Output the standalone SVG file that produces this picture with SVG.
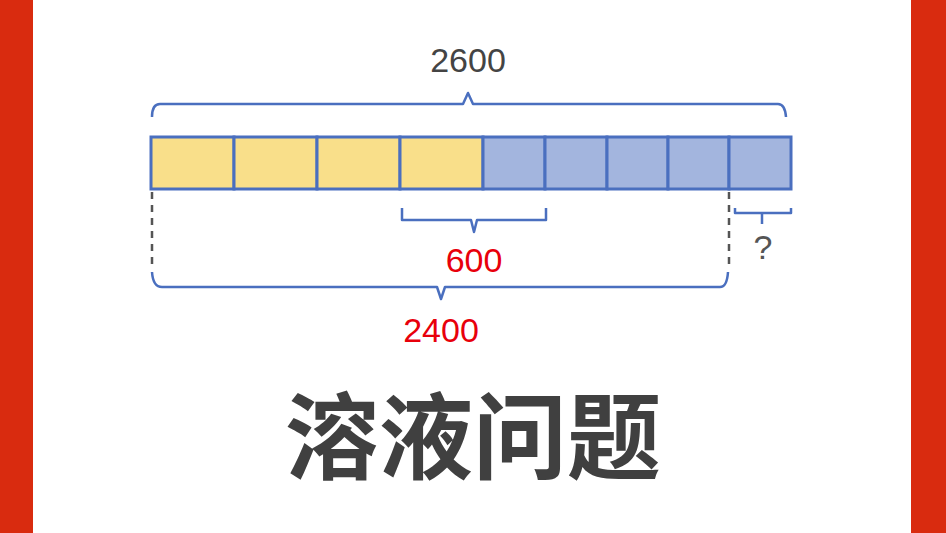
<svg xmlns="http://www.w3.org/2000/svg" width="946" height="533" viewBox="0 0 946 533">
<style>
.b{fill:none;stroke:#4a6fbf;stroke-width:2.5;stroke-linejoin:round}
.y{fill:#f9df8a;stroke:#4a6fbf;stroke-width:3}
.u{fill:#a3b5de;stroke:#4a6fbf;stroke-width:3}
.t{font-family:"Liberation Sans",Arial,sans-serif;font-size:34px;text-anchor:middle}
.d{stroke:#555;stroke-width:2.5;stroke-dasharray:7,6}
</style>
<rect width="946" height="533" fill="#fff"/>
<rect x="0" y="0" width="33" height="533" fill="#d92b0f"/>
<rect x="911" y="0" width="35" height="533" fill="#d92b0f"/>
<g id="bar">
<rect class="y" x="151" y="137" width="83" height="52"/>
<rect class="y" x="234" y="137" width="83" height="52"/>
<rect class="y" x="317" y="137" width="83" height="52"/>
<rect class="y" x="400" y="137" width="83" height="52"/>
<rect class="u" x="483" y="137" width="62" height="52"/>
<rect class="u" x="545" y="137" width="62" height="52"/>
<rect class="u" x="607" y="137" width="61" height="52"/>
<rect class="u" x="668" y="137" width="61" height="52"/>
<rect class="u" x="729" y="137" width="62" height="52"/>
</g>
<g id="connectors">
<path class="b" d="M152 117 Q152 104 160 104 L463 104 L468 93 L473 104 L778 104 Q785 104 786 117"/>
<path class="b" d="M402 208 L402 220 L471 220 L474 232 L477 220 L546 220 L546 208"/>
<path class="b" d="M735 208 L735 213 L762 213 L762 224 M762 213 L791 213 L791 208"/>
<path class="b" d="M152 272 Q153 287 162 287 L437 287 L441 299 L445 287 L720 287 Q727 287 728 272"/>
<line class="d" x1="152" y1="192" x2="152" y2="270"/>
<line class="d" x1="729" y1="192" x2="729" y2="270"/>
</g>
<g id="labels">
<text class="t" x="468" y="72" fill="#444">2600</text>
<text class="t" x="474" y="272" fill="#e8000b">600</text>
<text class="t" x="441" y="342" fill="#e8000b">2400</text>
<text class="t" x="763" y="259" fill="#555" font-size="29">?</text>
<text x="473" y="472" text-anchor="middle" font-family="'Noto Sans CJK SC',sans-serif" font-weight="bold" font-size="94" fill="#404040">溶液问题</text>
</g>
</svg>
